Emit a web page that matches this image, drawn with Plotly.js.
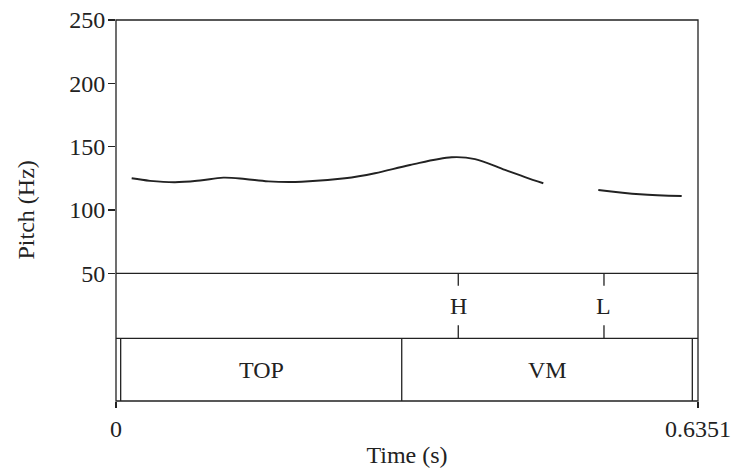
<!DOCTYPE html>
<html>
<head>
<meta charset="utf-8">
<script src="https://cdn.plot.ly/plotly-3.0.1.min.js"></script>
<style>html,body{margin:0;padding:0;background:#fff;}#chart{width:733px;height:468px;}</style>
</head>
<body>
<div id="chart"></div>
<script>
// Pitch contour (two voiced stretches)
const seg1Time = [0.0171, 0.0371, 0.0644, 0.0917, 0.1171, 0.1408, 0.1662, 0.2026, 0.2499, 0.2826, 0.3208, 0.3663, 0.3918, 0.4245, 0.4463, 0.4663];
const seg1Hz   = [125.0, 123.0, 121.9, 123.3, 125.5, 124.5, 122.6, 122.3, 125.0, 129.0, 135.5, 141.6, 140.2, 131.6, 126.0, 121.1];
const seg2Time = [0.5263, 0.5717, 0.6173];
const seg2Hz   = [115.8, 112.4, 111.0];

// Tone tier (points)
const tonePoints = [0.3735, 0.5325];
const toneLabels = ['H', 'L'];

// Word tier (intervals)
const wordBounds = [0.0051, 0.3118, 0.6289];
const wordLabels = ['TOP', 'VM'];

const tMax = 0.6351;
const yTicks = [50, 100, 150, 200, 250];
const xTicks = [0, tMax];
const xTickText = ['0', '0.6351'];

const FONT = 'Liberation Serif, Times New Roman, serif';
const INK = '#222';
const FS = 24;

const traces = [
  {x: seg1Time, y: seg1Hz, mode: 'lines', line: {color: INK, width: 1.9, shape: 'spline'}, xaxis: 'x', yaxis: 'y', hoverinfo: 'skip'},
  {x: seg2Time, y: seg2Hz, mode: 'lines', line: {color: INK, width: 1.9, shape: 'spline'}, xaxis: 'x', yaxis: 'y', hoverinfo: 'skip'}
];

const pitchBottom = 0.3352;
const y2Top = 2.037;
const shapes = [];
const annotations = [];
const lineStyle = {color: INK, width: 1.3};

// frame
shapes.push({type: 'rect', xref: 'paper', yref: 'paper', x0: 0, x1: 1, y0: 0, y1: 1, line: lineStyle});
// pitch/tier separator and tier separator
shapes.push({type: 'line', xref: 'paper', yref: 'paper', x0: 0, x1: 1, y0: pitchBottom, y1: pitchBottom, line: lineStyle});
shapes.push({type: 'line', xref: 'paper', yref: 'y2', x0: 0, x1: 1, y0: 1, y1: 1, line: lineStyle});

// tone points
tonePoints.forEach((t, i) => {
  shapes.push({type: 'line', xref: 'x', yref: 'y2', x0: t, x1: t, y0: y2Top, y1: y2Top - 0.2, line: lineStyle});
  shapes.push({type: 'line', xref: 'x', yref: 'y2', x0: t, x1: t, y0: 1, y1: 1.21, line: lineStyle});
  annotations.push({x: t, y: (1 + y2Top) / 2, xref: 'x', yref: 'y2', text: toneLabels[i], showarrow: false, font: {family: FONT, size: FS, color: INK}});
});

// word intervals
wordBounds.forEach(t => {
  shapes.push({type: 'line', xref: 'x', yref: 'y2', x0: t, x1: t, y0: 0, y1: 1, line: lineStyle});
});
wordLabels.forEach((lab, i) => {
  annotations.push({x: (wordBounds[i] + wordBounds[i + 1]) / 2, y: 0.5, xref: 'x', yref: 'y2', text: lab, showarrow: false, font: {family: FONT, size: FS, color: INK}});
});

annotations.push({x: (25 - 116) / 582, y: 0.5, xref: 'paper', yref: 'paper', xanchor: 'center', yanchor: 'middle', text: 'Pitch (Hz)', textangle: -90, showarrow: false, font: {family: FONT, size: FS, color: INK}});

const layout = {
  width: 733, height: 468,
  margin: {l: 116, r: 35, t: 20, b: 67, pad: 0},
  paper_bgcolor: '#fff', plot_bgcolor: '#fff',
  showlegend: false,
  xaxis: {
    range: [0, tMax], anchor: 'y2', domain: [0, 1],
    tickmode: 'array', tickvals: xTicks, ticktext: xTickText,
    ticks: 'outside', ticklen: 6, tickwidth: 1.3, tickcolor: INK,
    showgrid: false, zeroline: false, showline: false,
    tickfont: {family: FONT, size: FS, color: INK},
    title: {text: 'Time (s)', font: {family: FONT, size: FS, color: INK}, standoff: 10}
  },
  yaxis: {
    range: [50, 250], domain: [pitchBottom, 1], anchor: 'x',
    tickmode: 'array', tickvals: yTicks,
    ticks: 'outside', ticklen: 7, tickwidth: 1.3, tickcolor: INK,
    ticklabelstandoff: -2,
    showgrid: false, zeroline: false, showline: false,
    tickfont: {family: FONT, size: FS, color: INK}
  },
  yaxis2: {
    range: [0, y2Top], domain: [0, pitchBottom], anchor: 'x',
    visible: false, showgrid: false, zeroline: false
  },
  shapes: shapes,
  annotations: annotations
};

Plotly.newPlot('chart', traces, layout, {staticPlot: true, displayModeBar: false});
</script>
</body>
</html>
